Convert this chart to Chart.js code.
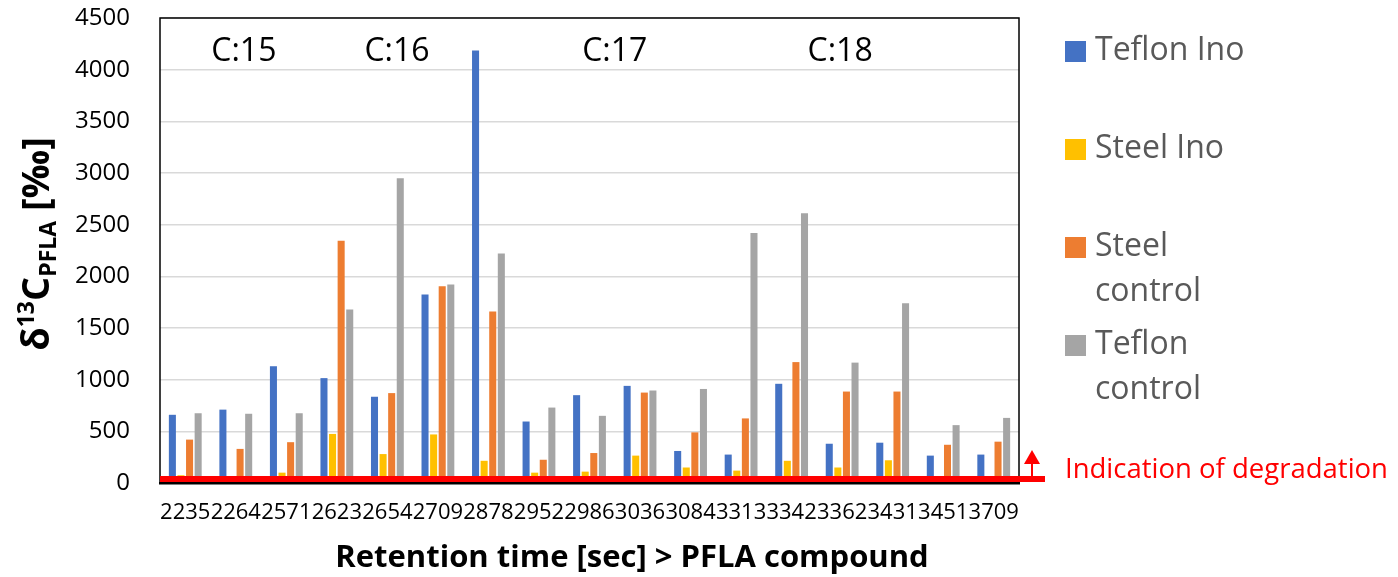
<!DOCTYPE html>
<html>
<head>
<meta charset="utf-8">
<script src="https://cdn.jsdelivr.net/npm/chart.js@4.4.0/dist/chart.umd.min.js"></script>
<style>
    html, body { margin: 0; padding: 0; background: #fff; }
    canvas { display: block; }
</style>
</head>
<body>
<canvas id="pflaChart" width="1398" height="577"></canvas>
<script>
// Retention time of each PFLA compound (x categories)
const retentionTimes = ['2235', '2264', '2571', '2623', '2654', '2709', '2878', '2952', '2986',
                        '3036', '3084', '3313', '3342', '3362', '3431', '3451', '3709'];

// δ13C values per series [‰]
const teflonIno     = [660, 710, 1130, 1015, 835, 1825, 4185, 595, 850, 940, 310, 275, 960, 380, 390, 265, 275];
const steelIno      = [75, 0, 100, 475, 280, 470, 215, 100, 110, 265, 150, 120, 215, 150, 220, 0, 0];
const steelControl  = [420, 330, 395, 2345, 870, 1905, 1660, 225, 290, 875, 490, 625, 1170, 885, 885, 370, 400];
const teflonControl = [675, 670, 675, 1680, 2950, 1920, 2220, 730, 650, 895, 910, 2420, 2610, 1165, 1740, 560, 630];

const seriesNames  = ['Teflon Ino', 'Steel Ino', 'Steel control', 'Teflon control'];
const seriesColors = ['#4472C4', '#FFC000', '#ED7D31', '#A5A5A5'];

// y axis range
const yMin = 0, yMax = 4500, yStep = 500;

// chain-length labels, placed at a (fractional) category index
const chainLabels = ['C:15', 'C:16', 'C:17', 'C:18'];
const chainLabelAt = [1.16, 4.19, 8.5, 12.96];

const degradationText = 'Indication of degradation';
const xTitle = 'Retention time [sec] > PFLA compound';

const FONT = '"Open Sans", "DejaVu Sans", sans-serif';

// Extra drawing: frame, degradation line + arrow, titles, legend, chain labels
const decorations = {
    id: 'decorations',
    afterDatasetsDraw(chart) {
        const { ctx, chartArea: a, scales } = chart;
        const yZero = scales.y.getPixelForValue(0);
        ctx.save();
        // plot frame
        ctx.strokeStyle = '#000';
        ctx.lineWidth = 1.5;
        ctx.strokeRect(a.left, a.top, a.right - a.left, a.bottom - a.top);
        ctx.fillStyle = '#000';
        ctx.fillRect(a.left - 1, a.bottom - 1, a.right - a.left + 2, 2.5);
        // red degradation line
        ctx.fillStyle = '#FF0000';
        ctx.fillRect(a.left, yZero - 7, a.right + 26 - a.left, 6);
        // arrow
        const ax = a.right + 13;
        ctx.fillRect(ax - 1, yZero - 20, 2, 14);
        ctx.beginPath();
        ctx.moveTo(ax, yZero - 33);
        ctx.lineTo(ax + 8, yZero - 19);
        ctx.lineTo(ax - 8, yZero - 19);
        ctx.closePath();
        ctx.fill();
        ctx.restore();
    },
    afterDraw(chart) {
        const { ctx, chartArea: a, scales } = chart;
        ctx.save();

        // chain-length labels
        ctx.fillStyle = '#000';
        ctx.font = `32px ${FONT}`;
        ctx.textAlign = 'center';
        ctx.textBaseline = 'alphabetic';
        chainLabels.forEach((t, i) => {
            ctx.fillText(t, scales.x.getPixelForValue(chainLabelAt[i]), a.top + 43);
        });

        // x axis title
        ctx.font = `bold 31px ${FONT}`;
        ctx.fillText(xTitle, 632, 567);

        // y axis title: δ13C(PFLA) [‰]
        const big = `bold 38px ${FONT}`, small = `bold 23px ${FONT}`;
        const parts = [
            { t: 'δ', f: big, dy: 0 },
            { t: '13', f: small, dy: -15 },
            { t: 'C', f: big, dy: 0 },
            { t: 'PFLA', f: small, dy: 7 },
            { t: ' [‰]', f: big, dy: 0 }
        ];
        let total = 0;
        parts.forEach(p => { ctx.font = p.f; p.w = ctx.measureText(p.t).width; total += p.w; });
        ctx.translate(36, 244);
        ctx.rotate(-Math.PI / 2);
        ctx.textAlign = 'left';
        let px = -total / 2;
        parts.forEach(p => {
            ctx.font = p.f;
            ctx.fillText(p.t, px, 13 + p.dy);
            px += p.w;
        });
        ctx.setTransform(1, 0, 0, 1, 0, 0);

        // legend
        const lx = a.right + 46;
        ctx.font = `32px ${FONT}`;
        ctx.textAlign = 'left';
        let base = 60;
        seriesNames.forEach((name, i) => {
            ctx.fillStyle = seriesColors[i];
            ctx.fillRect(lx, base - 19, 21, 21);
            ctx.fillStyle = '#595959';
            const lines = ctx.measureText(name).width > 165 ? name.split(' ') : [name];
            lines.forEach((ln, j) => ctx.fillText(ln, lx + 30, base + j * 45));
            base += 98;
        });

        // degradation note
        ctx.fillStyle = '#FF0000';
        ctx.font = `27.5px ${FONT}`;
        ctx.fillText(degradationText, lx, 478);

        ctx.restore();
    }
};

const ctx = document.getElementById('pflaChart').getContext('2d');
new Chart(ctx, {
    type: 'bar',
    data: {
        labels: retentionTimes,
        datasets: [teflonIno, steelIno, steelControl, teflonControl].map((d, i) => ({
            label: seriesNames[i],
            data: d,
            backgroundColor: seriesColors[i],
            borderWidth: 0,
            categoryPercentage: 0.68,
            barPercentage: 0.82
        }))
    },
    options: {
        responsive: false,
        animation: false,
        devicePixelRatio: 1,
        layout: { padding: { top: 18, right: 379, left: 0, bottom: 0 } },
        plugins: { legend: { display: false }, tooltip: { enabled: false } },
        scales: {
            x: {
                grid: { display: false, drawTicks: false },
                border: { display: false },
                ticks: {
                    color: '#000',
                    font: { family: FONT, size: 22 },
                    maxRotation: 0, minRotation: 0, autoSkip: false, padding: 17
                },
                afterFit: s => {
                    s.height = 94;
                    s.paddingLeft = s.paddingRight = s.paddingTop = s.paddingBottom = 0;
                }
            },
            y: {
                min: yMin, max: yMax,
                grid: { color: '#D9D9D9', lineWidth: 1.5, drawTicks: false },
                border: { display: false },
                ticks: {
                    stepSize: yStep,
                    color: '#000',
                    font: { family: FONT, size: 24 },
                    padding: 30,
                    callback: v => String(v)
                },
                afterFit: s => {
                    s.width = 160;
                    s.paddingLeft = s.paddingRight = s.paddingTop = s.paddingBottom = 0;
                }
            }
        }
    },
    plugins: [decorations]
});
</script>
</body>
</html>
